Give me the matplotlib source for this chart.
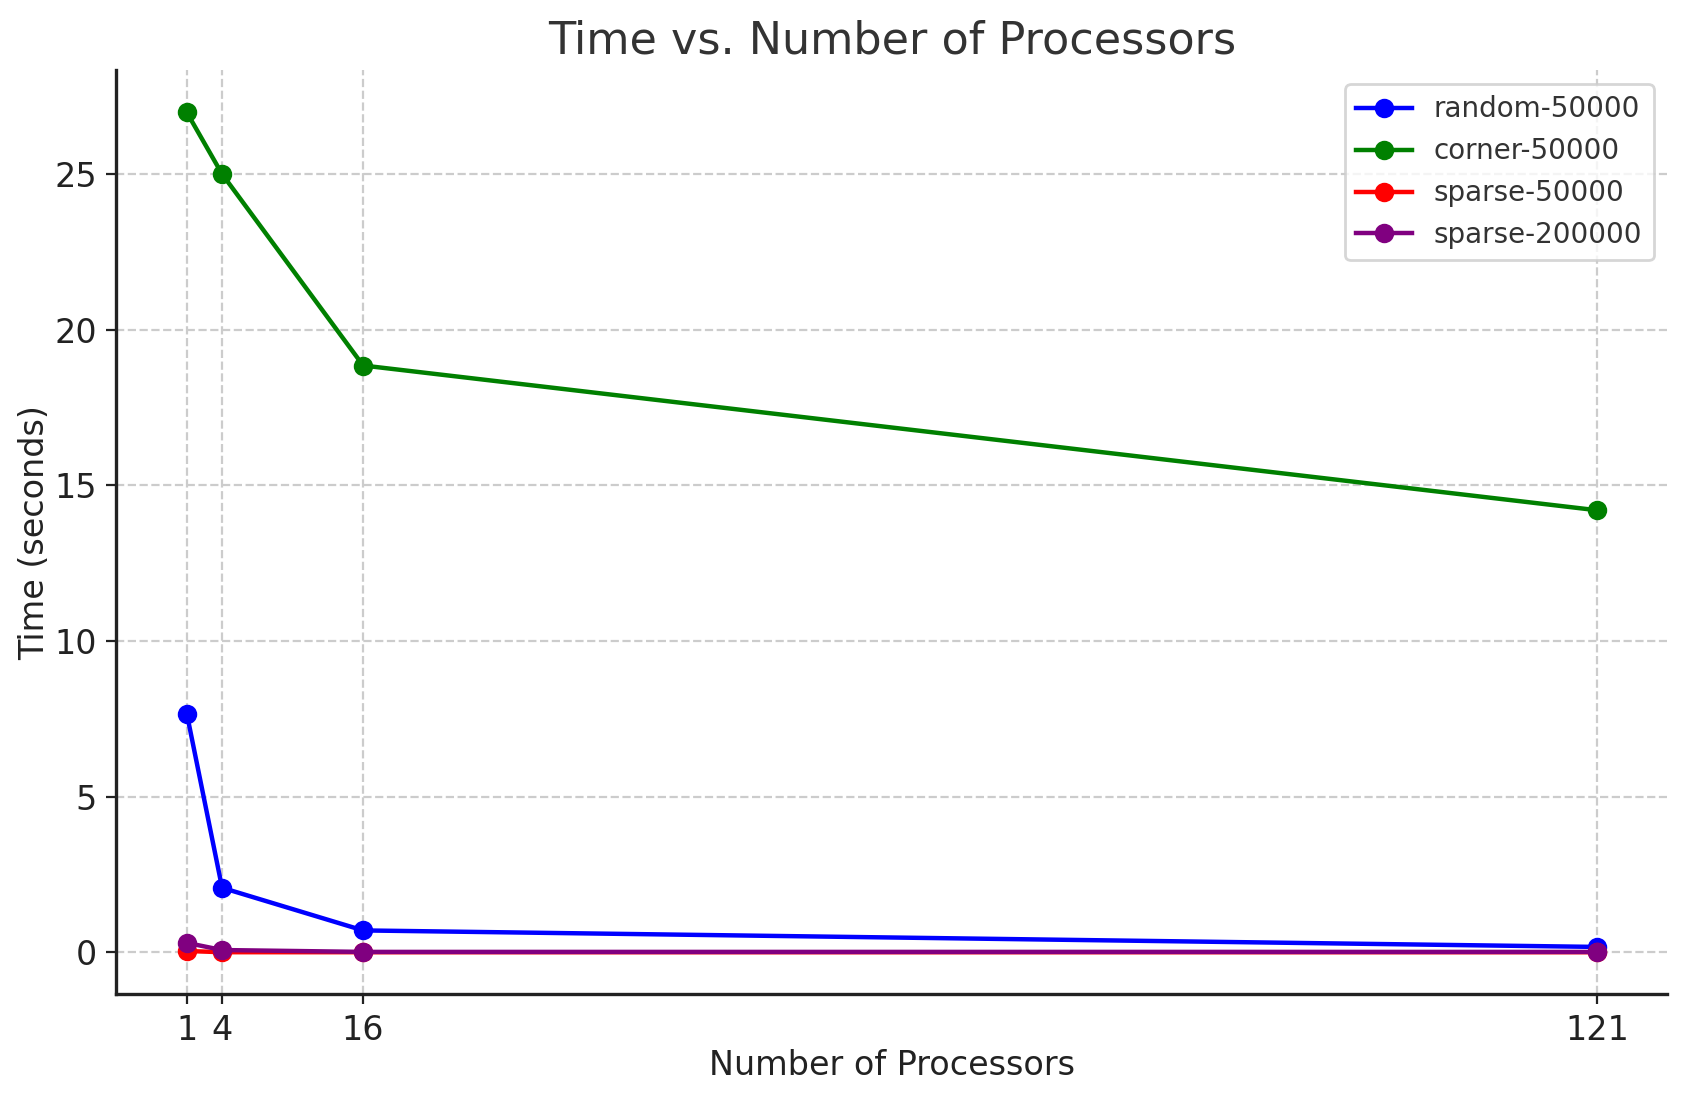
import matplotlib
matplotlib.use("Agg")
from matplotlib import pyplot as plt

processors = [1, 4, 16, 121]
random_50000 = [7.66, 2.07, 0.70, 0.17]
corner_50000 = [26.98, 25.0, 18.85, 14.2]
sparse_50000 = [0.04, 0.0, 0.0, 0.0]
sparse_200000 = [0.30, 0.07, 0.01, 0.01]

series = [
    ('random-50000', random_50000, 'blue'),
    ('corner-50000', corner_50000, 'green'),
    ('sparse-50000', sparse_50000, 'red'),
    ('sparse-200000', sparse_200000, 'purple'),
]

plt.rcParams['text.color'] = '#333333'
plt.rcParams['axes.labelcolor'] = '#222222'

fig, ax = plt.subplots(figsize=(8.43, 5.505), dpi=200)
fig.subplots_adjust(left=0.069, right=0.989, top=0.936, bottom=0.097)

for label, values, color in series:
    ax.plot(processors, values, marker='o', color=color, label=label,
            linewidth=1.6, markersize=6)

ax.set_title('Time vs. Number of Processors', fontsize=16, color='#333333')
ax.set_xlabel('Number of Processors', fontsize=12, labelpad=1)
ax.set_ylabel('Time (seconds)', fontsize=12, labelpad=1)
ax.set_xticks(processors)
ax.tick_params(axis='both', labelsize=12, colors='#222222')
ax.grid(True, linestyle='--', color='#cccccc', linewidth=0.8)
ax.spines['top'].set_visible(False)
ax.spines['right'].set_visible(False)
for side in ['left', 'bottom']:
    ax.spines[side].set_color('#222222')
    ax.spines[side].set_linewidth(1.2)

leg = ax.legend(loc='upper right', fontsize=10, labelspacing=0.5)
leg.get_frame().set_edgecolor('#cccccc')

plt.savefig('out.png', dpi=200)
